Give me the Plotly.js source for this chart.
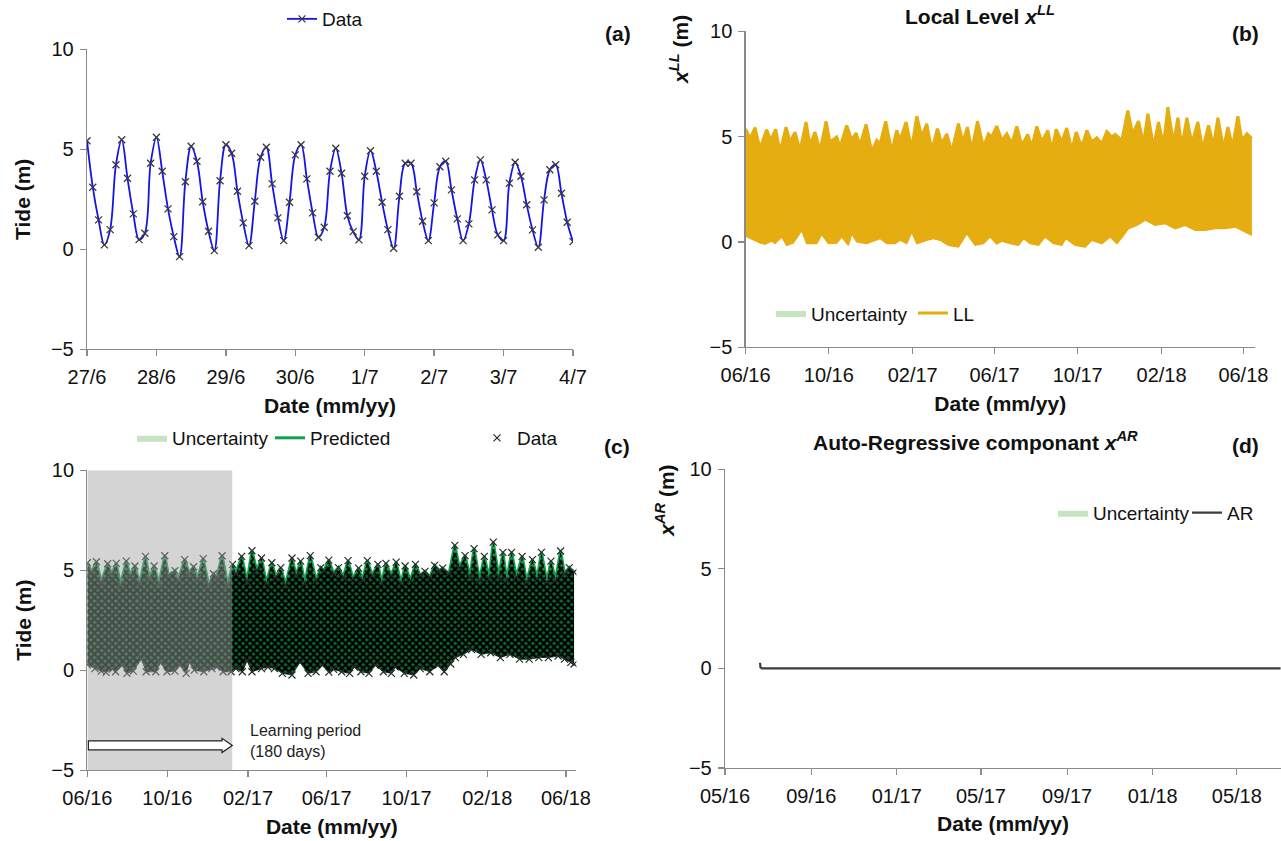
<!DOCTYPE html>
<html>
<head>
<meta charset="utf-8">
<script src="https://cdn.plot.ly/plotly-3.0.1.min.js"></script>
<style>
  html, body { margin: 0; padding: 0; background: #ffffff; }
  #chart { width: 1281px; height: 841px; }
</style>
</head>
<body>
<div id="chart"></div>
<script>
// ---- (a) one week of tide readings, one every two hours ----
const tideStart = '2017-06-27T00:00:00Z';
const tideStepHours = 2;
const tideValues = [
  5.43, 3.10, 1.47, 0.22, 0.98, 4.23, 5.48, 3.55, 1.77, 0.48,
  0.80, 4.30, 5.60, 3.90, 2.02, 0.63, -0.37, 3.38, 5.15, 4.40,
  2.38, 0.90, -0.07, 3.43, 5.23, 4.80, 2.90, 1.32, 0.18, 2.40,
  4.60, 5.10, 3.27, 1.57, 0.43, 2.35, 4.72, 5.23, 3.52, 1.82,
  0.60, 1.10, 3.90, 5.05, 3.80, 1.68, 0.88, 0.47, 3.65, 4.93,
  3.90, 2.35, 0.98, 0.05, 2.65, 4.30, 4.30, 2.88, 1.40, 0.43,
  2.32, 4.13, 4.40, 2.97, 1.52, 0.43, 1.27, 3.47, 4.47, 3.47,
  1.97, 0.72, 0.43, 3.30, 4.35, 3.65, 2.23, 0.97, 0.10, 2.47,
  3.98, 4.23, 2.80, 1.35, 0.38
];
const tideTickVals = ['2017-06-27', '2017-06-28', '2017-06-29', '2017-06-30',
                      '2017-07-01', '2017-07-02', '2017-07-03', '2017-07-04'];
const tideTickText = ['27/6', '28/6', '29/6', '30/6', '1/7', '2/7', '3/7', '4/7'];

// ---- (b)-(c) two-year record: spring/neap highs and lows (days after start) ----
const recordStart = '2016-06-20';
const highDays = [
  0, 6.5, 13.8, 21.1, 30.9, 36.8, 44.1, 50.5, 59.3, 65.2,
  72.5, 79.8, 88.6, 94.5, 101.8, 109.2, 118.0, 123.8, 133.6, 138.5,
  148.3, 155.6, 162.0, 167.8, 176.6, 185.0, 192.3, 197.2, 205.5, 214.3,
  221.6, 226.5, 235.3, 243.6, 251.0, 258.3, 265.6, 273.0, 281.3, 287.6,
  295.0, 302.3, 312.1, 318.5, 325.3, 331.7, 340.0, 348.8, 356.1, 361.0,
  368.3, 375.7, 383.0, 390.4, 397.7, 405.0, 413.8, 419.7, 427.0, 434.4,
  443.2, 449.0, 455.4, 463.7, 471.0, 478.4, 484.7, 493.0, 500.4, 507.7,
  515.0, 522.4, 529.7, 537.0, 542.0, 551.7, 560.5, 567.4, 576.2, 583.5,
  589.9, 598.2, 605.5, 612.8, 619.2, 627.5, 633.9, 639.7, 647.1, 654.4,
  663.2, 670.1, 678.9, 686.2, 692.6, 700.9, 707.2, 714.1, 721.9, 727.8,
  735.1, 742.4
];
const highVals = [
  5.37, 4.90, 5.42, 4.42, 5.32, 4.82, 5.34, 4.27, 5.45, 4.74,
  5.21, 4.34, 5.69, 4.58, 5.21, 4.34, 5.72, 4.74, 4.98, 4.50,
  5.53, 4.82, 5.17, 4.58, 5.58, 4.27, 4.82, 4.66, 5.72, 4.27,
  5.29, 4.82, 5.69, 4.42, 5.97, 4.98, 5.61, 4.34, 5.37, 4.66,
  5.13, 4.27, 5.61, 4.74, 5.45, 4.34, 5.73, 4.50, 5.13, 4.98,
  5.50, 4.82, 5.13, 4.66, 5.48, 4.58, 5.10, 4.50, 5.48, 4.74,
  5.29, 4.34, 5.34, 4.74, 5.40, 4.34, 5.21, 4.50, 5.29, 4.74,
  4.94, 4.66, 5.24, 4.98, 5.10, 4.82, 6.24, 5.13, 5.73, 4.66,
  6.08, 4.50, 5.69, 4.58, 6.40, 4.66, 5.89, 4.50, 5.89, 4.66,
  5.69, 4.42, 5.53, 4.58, 5.89, 4.42, 5.45, 4.50, 5.96, 4.82,
  5.13, 4.90
];
const lowDays = [
  0, 11.4, 21.1, 28.5, 38.3, 43.1, 52.9, 60.3, 70.0, 82.3,
  89.6, 104.3, 111.6, 121.4, 133.6, 141.0, 150.7, 155.6, 163.0, 177.6,
  189.8, 197.2, 207.0, 219.2, 226.5, 236.3, 243.6, 251.0, 265.6, 275.4,
  285.2, 297.4, 312.1, 324.3, 336.6, 348.8, 358.6, 368.3, 375.7, 387.9,
  400.1, 407.5, 417.2, 429.5, 439.3, 451.5, 463.7, 469.6, 483.3, 497.9,
  507.7, 522.4, 534.6, 544.4, 554.2, 561.5, 573.7, 586.0, 600.6, 615.3,
  630.0, 644.6, 659.3, 674.0, 688.6, 703.3, 718.0, 727.8, 737.5, 742.4
];
const lowVals = [
  0.27, 0.08, -0.05, -0.11, 0.05, -0.08, 0.24, -0.16, -0.05, 0.55,
  -0.08, -0.08, 0.36, -0.08, -0.05, 0.24, -0.16, 0.39, 0.00, -0.08,
  0.08, 0.16, -0.08, -0.08, 0.08, -0.08, 0.47, -0.08, 0.08, 0.16,
  0.08, -0.16, -0.24, 0.39, -0.16, -0.08, 0.24, -0.10, 0.04, -0.08,
  -0.16, 0.16, -0.08, -0.16, 0.24, -0.08, -0.16, 0.16, -0.16, -0.24,
  0.08, -0.08, 0.24, -0.08, 0.31, 0.63, 0.79, 1.03, 0.79, 0.87,
  0.63, 0.79, 0.55, 0.55, 0.63, 0.63, 0.71, 0.55, 0.39, 0.31
];
const recordTickVals = ['2016-06-20', '2016-10-20', '2017-02-20', '2017-06-20',
                        '2017-10-20', '2018-02-20', '2018-06-20'];
const recordTickText = ['06/16', '10/16', '02/17', '06/17', '10/17', '02/18', '06/18'];
const learningStart = '2016-06-20';
const learningEnd = '2017-01-27';

// ---- (d) auto-regressive component ----
const arDays = [0, 0.6, 2.5, 742.4];
const arVals = [0.28, 0.05, 0.0, 0.0];
const arTickVals = ['2016-05-01', '2016-09-01', '2017-01-01', '2017-05-01',
                    '2017-09-01', '2018-01-01', '2018-05-01'];
const arTickText = ['05/16', '09/16', '01/17', '05/17', '09/17', '01/18', '05/18'];

// ---------------------------------------------------------------
const W = 1281, H = 841;
const FONT = 'Liberation Sans, Arial, sans-serif';
const TXT = '#111111';
const AXC = '#8a8a8a';
const ORANGE = '#e6ad10';
const PALE = '#c6e4c0';
const GREEN = '#12a04e';

const DAY = 86400000;
function dayToDate(d) {
  const t = new Date(Date.parse(recordStart + 'T00:00:00Z') + d * DAY);
  return t.toISOString().slice(0, 19).replace('T', ' ');
}
const tideX = tideValues.map((_, i) =>
  new Date(Date.parse(tideStart) + i * tideStepHours * 3600000).toISOString().slice(0, 19).replace('T', ' '));
const hiX = highDays.map(dayToDate);
const loX = lowDays.map(dayToDate);
const arX = arDays.map(dayToDate);

// px helpers for placing panels
const px = v => v / W;
const py = v => 1 - v / H;

function xAxis(domL, domR, anchor, range, tv, tt) {
  return {
    domain: [px(domL), px(domR)], anchor: anchor, type: 'date', range: range,
    tickmode: 'array', tickvals: tv, ticktext: tt,
    showline: true, linecolor: AXC, linewidth: 1.3, mirror: false,
    ticks: 'outside', ticklen: 6, tickcolor: AXC, tickwidth: 1.3,
    showgrid: false, zeroline: false, ticklabelstandoff: 4,
    tickfont: { family: FONT, size: 20, color: TXT },
    title: { text: '<b>Date (mm/yy)</b>', font: { family: FONT, size: 21, color: TXT }, standoff: 10 }
  };
}
function yAxis(top, bottom, anchor, titleText) {
  const ax = {
    domain: [py(bottom), py(top)], anchor: anchor, range: [-5, 10],
    tickmode: 'array', tickvals: [-5, 0, 5, 10],
    showline: true, linecolor: AXC, linewidth: 1.3,
    ticks: 'outside', ticklen: 6, tickcolor: AXC, tickwidth: 1.3,
    showgrid: false, zeroline: false, ticklabelstandoff: 2,
    tickfont: { family: FONT, size: 20, color: TXT }
  };
  if (titleText) ax.title = { text: titleText, font: { family: FONT, size: 21, color: TXT }, standoff: 14 };
  return ax;
}
function legendAt(xpx, ypx) {
  return {
    x: px(xpx), y: py(ypx), xanchor: 'left', yanchor: 'middle', orientation: 'h',
    bgcolor: 'rgba(0,0,0,0)', borderwidth: 0, itemwidth: 30,
    font: { family: FONT, size: 19, color: TXT }
  };
}

const traces = [];

// (a) tide readings
traces.push({
  x: tideX, y: tideValues, xaxis: 'x', yaxis: 'y', type: 'scatter', mode: 'lines+markers',
  name: 'Data', legend: 'legend',
  line: { color: '#1414e6', width: 1.8, shape: 'spline', smoothing: 1 },
  marker: { symbol: 'x-thin', size: 7, line: { width: 1.3, color: '#3a3a3a' } }
});

// (b) local level: uncertainty band beneath, LL band on top
traces.push({ x: loX, y: lowVals, xaxis: 'x2', yaxis: 'y2', mode: 'lines', line: { width: 0 }, showlegend: false, hoverinfo: 'skip' });
traces.push({ x: hiX, y: highVals, xaxis: 'x2', yaxis: 'y2', mode: 'lines', fill: 'tonexty', fillcolor: PALE,
  line: { width: 0, color: PALE }, name: 'Uncertainty', legend: 'legend2' });
traces.push({ x: hiX, y: highVals, xaxis: 'x2', yaxis: 'y2', mode: 'lines', line: { color: ORANGE, width: 3 },
  name: 'LL', legend: 'legend3' });
traces.push({ x: loX, y: lowVals, xaxis: 'x2', yaxis: 'y2', mode: 'lines', fill: 'tonexty', fillcolor: ORANGE,
  line: { color: ORANGE, width: 1.5 }, showlegend: false });

// (c) predicted vs data
traces.push({ x: loX, y: lowVals, xaxis: 'x3', yaxis: 'y3', mode: 'lines', line: { width: 0 }, showlegend: false, hoverinfo: 'skip' });
traces.push({ x: hiX, y: highVals, xaxis: 'x3', yaxis: 'y3', mode: 'lines', fill: 'tonexty', fillcolor: PALE,
  line: { width: 0, color: PALE }, name: 'Uncertainty', legend: 'legend4' });
traces.push({ x: hiX, y: highVals, xaxis: 'x3', yaxis: 'y3', mode: 'lines', line: { color: GREEN, width: 3 },
  name: 'Predicted', legend: 'legend5' });
traces.push({ x: loX, y: lowVals, xaxis: 'x3', yaxis: 'y3', mode: 'lines', fill: 'tonexty', fillcolor: '#0c6a32',
  line: { color: '#0c6a32', width: 1 }, showlegend: false });
traces.push({ x: hiX, y: highVals, xaxis: 'x3', yaxis: 'y3', mode: 'lines', line: { width: 0 }, showlegend: false, hoverinfo: 'skip' });
traces.push({ x: loX, y: lowVals, xaxis: 'x3', yaxis: 'y3', mode: 'lines', fill: 'tonexty',
  fillcolor: 'rgba(0,0,0,0)',
  fillpattern: { shape: 'x', fgcolor: '#000000', bgcolor: 'rgba(0,0,0,0)', fgopacity: 1, size: 5, solidity: 0.7 },
  line: { width: 0 }, showlegend: false });
traces.push({ x: hiX.concat(loX), y: highVals.concat(lowVals), xaxis: 'x3', yaxis: 'y3', mode: 'markers',
  name: 'Data', legend: 'legend6',
  marker: { symbol: 'x-thin', size: 7, line: { width: 1.2, color: '#2a2a2a' } } });

// (d) auto-regressive component
traces.push({ x: arX, y: arVals, xaxis: 'x4', yaxis: 'y4', mode: 'lines', line: { width: 0 }, showlegend: false, hoverinfo: 'skip' });
traces.push({ x: arX, y: arVals, xaxis: 'x4', yaxis: 'y4', mode: 'lines', fill: 'tonexty', fillcolor: PALE,
  line: { width: 0, color: PALE }, name: 'Uncertainty', legend: 'legend7' });
traces.push({ x: arX, y: arVals, xaxis: 'x4', yaxis: 'y4', mode: 'lines', line: { color: '#3c3c3c', width: 2.2 },
  name: 'AR', legend: 'legend8' });

// ranges
const recB = [recordStart, '2018-07-07'];
const recC = [recordStart, '2018-07-06'];
const recD = ['2016-05-01', '2018-07-03'];

// learning period arrow in domain fractions of panel (c)
const t0 = Date.parse(recC[0] + 'T00:00:00Z'), t1 = Date.parse(recC[1] + 'T00:00:00Z');
const fEnd = (Date.parse(learningEnd + 'T00:00:00Z') - t0) / (t1 - t0);
const fHead = fEnd - 0.021;
const arrowPath = `M 0.002,-3.54 L ${fHead},-3.54 L ${fHead},-3.41 L ${fEnd},-3.77 L ${fHead},-4.12 L ${fHead},-3.99 L 0.002,-3.99 Z`;

const ann = (x, y, text, extra) => Object.assign({
  xref: 'paper', yref: 'paper', x: px(x), y: py(y), xanchor: 'center', yanchor: 'middle',
  text: text, showarrow: false,
  font: { family: FONT, size: 21, color: TXT }
}, extra || {});

const layout = {
  width: W, height: H, autosize: false,
  margin: { l: 0, r: 0, t: 0, b: 0 },
  paper_bgcolor: '#ffffff', plot_bgcolor: 'rgba(0,0,0,0)',
  font: { family: FONT, color: TXT },
  xaxis: xAxis(87, 573, 'y', ['2017-06-27', '2017-07-04'], tideTickVals, tideTickText),
  yaxis: yAxis(47.5, 348, 'x', '<b>Tide (m)</b>'),
  xaxis2: xAxis(745.6, 1255, 'y2', recB, recordTickVals, recordTickText),
  yaxis2: yAxis(29.3, 346, 'x2', null),
  xaxis3: xAxis(87.4, 576.4, 'y3', recC, recordTickVals, recordTickText),
  yaxis3: yAxis(469.3, 770, 'x3', '<b>Tide (m)</b>'),
  xaxis4: xAxis(725, 1281, 'y4', recD, arTickVals, arTickText),
  yaxis4: yAxis(468.3, 767.7, 'x4', null),
  legend: legendAt(282, 17),
  legend2: legendAt(771, 312),
  legend3: legendAt(913, 312),
  legend4: legendAt(132, 437),
  legend5: legendAt(270, 437),
  legend6: legendAt(477, 437),
  legend7: legendAt(1053, 512),
  legend8: legendAt(1187, 512),
  shapes: [
    { type: 'rect', xref: 'x3', yref: 'y3', x0: learningStart, x1: learningEnd, y0: -5, y1: 10,
      fillcolor: 'rgb(161,161,161)', opacity: 0.46, line: { width: 0 }, layer: 'above' },
    { type: 'path', xref: 'x3 domain', yref: 'y3', path: arrowPath,
      fillcolor: '#ffffff', line: { color: '#222222', width: 1.2 }, layer: 'above' }
  ],
  annotations: [
    ann(618, 32, '<b>(a)</b>'),
    ann(1245, 32, '<b>(b)</b>'),
    ann(617, 446, '<b>(c)</b>'),
    ann(1245, 445, '<b>(d)</b>'),
    ann(980, 13, '<b>Local Level <i>x</i><sup><i>LL</i></sup></b>'),
    ann(975, 440, '<b>Auto-Regressive componant <i>x</i><sup><i>AR</i></sup></b>'),
    ann(679, 48, '<b><i>x</i><sup><i>LL</i></sup> (m)</b>', { textangle: -90 }),
    ann(665, 500, '<b><i>x</i><sup><i>AR</i></sup> (m)</b>', { textangle: -90 }),
    { xref: 'x3', yref: 'y3', x: learningEnd, y: -3.55, xanchor: 'left', yanchor: 'middle', xshift: 16, align: 'left',
      showarrow: false, text: 'Learning period<br>(180 days)',
      font: { family: FONT, size: 16, color: '#222222' } }
  ]
};

Plotly.newPlot('chart', traces, layout, { staticPlot: true, displayModeBar: false });
</script>
</body>
</html>
